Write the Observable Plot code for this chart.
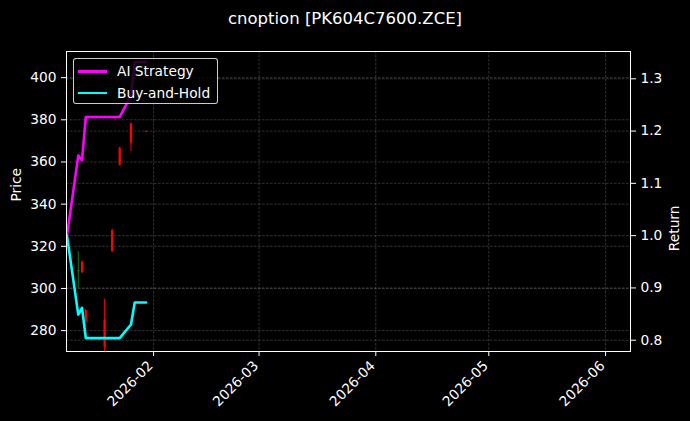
<!DOCTYPE html>
<html>
<head>
<meta charset="utf-8">
<script src="https://cdn.jsdelivr.net/npm/d3@7"></script>
<script src="https://cdn.jsdelivr.net/npm/@observablehq/plot@0.6"></script>
<style>
  html, body { margin: 0; padding: 0; background: #000; }
  #wrap { position: relative; width: 690px; height: 421px; background: #000; font-family: "DejaVu Sans", sans-serif; color: #fff; overflow: hidden; }
  #title { height: 35px; box-sizing: border-box; padding-top: 10px; text-align: center; font-size: 16.5px; line-height: 18px; }
  #legend { position: absolute; left: 73px; top: 58px; width: 145px; height: 46px; box-sizing: border-box;
            background: rgba(0,0,0,0.8); border: 1px solid rgba(255,255,255,0.8); border-radius: 3px; }
  .item { position: absolute; left: 0; height: 20px; width: 100%; font-size: 13.75px; line-height: 20px; }
  .sw { position: absolute; left: 4px; top: 9px; width: 29px; height: 2.6px; }
  .lb { position: absolute; left: 43px; top: 0; white-space: nowrap; }
</style>
</head>
<body>
<div id="wrap">
  <div id="title">cnoption [PK604C7600.ZCE]</div>
  <div id="chart"></div>
  <div id="legend"></div>
</div>
<script>
// ---- data ----
const lineDates = ["2026-01-09","2026-01-12","2026-01-13","2026-01-14","2026-01-15","2026-01-16","2026-01-19","2026-01-20","2026-01-21","2026-01-22","2026-01-23","2026-01-26","2026-01-27","2026-01-28","2026-01-29","2026-01-30"];
const aiStrategy = [1.000, 1.153, 1.144, 1.227, 1.227, 1.227, 1.227, 1.227, 1.227, 1.227, 1.227, 1.268, 1.332, 1.332, 1.332, 1.332];
const buyHold    = [1.000, 0.849, 0.862, 0.804, 0.804, 0.804, 0.804, 0.804, 0.804, 0.804, 0.804, 0.830, 0.872, 0.872, 0.872, 0.872];
const seriesNames = ["AI Strategy", "Buy-and-Hold"];
const seriesColors = ["#ff00ff", "#00ffff"];

const candleDates = ["2026-01-12","2026-01-13","2026-01-14","2026-01-19","2026-01-21","2026-01-23","2026-01-26","2026-01-30"];
const openP  = [308.0, 312.5, 289.5, 285.0, 327.5, 366.5, 378.0, 374.5];
const highP  = [317.5, 313.0, 290.0, 295.0, 328.0, 367.0, 378.5, 374.7];
const lowP   = [300.0, 307.0, 282.0, 265.0, 317.0, 358.0, 365.0, 374.0];
const closeP = [308.5, 307.5, 284.0, 272.0, 317.5, 358.5, 369.0, 374.2];

const priceTicks = [280, 300, 320, 340, 360, 380, 400];
const returnTicks = [0.8, 0.9, 1.0, 1.1, 1.2, 1.3];
const monthTicks = ["2026-02-01","2026-03-01","2026-04-01","2026-05-01","2026-06-01"];

// ---- scales ----
const pMin = 270.1, pMax = 412.4;
const rMin = 0.7784, rMax = 1.3522;
const toP = r => pMin + (r - rMin) * (pMax - pMin) / (rMax - rMin);
const fromP = p => rMin + (p - pMin) * (rMax - rMin) / (pMax - pMin);

const parse = s => new Date(s + "T00:00:00Z");

const lineData = [];
lineDates.forEach((d, i) => {
  lineData.push({date: parse(d), series: seriesNames[0], ret: aiStrategy[i]});
  lineData.push({date: parse(d), series: seriesNames[1], ret: buyHold[i]});
});
const candles = candleDates.map((d, i) => ({
  date: parse(d), open: openP[i], high: highP[i], low: lowP[i], close: closeP[i],
  color: closeP[i] >= openP[i] ? "#008000" : "#ff0000"
}));

const gridStyle = {stroke: "#8a8a8a", strokeOpacity: 0.6, strokeWidth: 0.6, strokeDasharray: "2.6,1.4"};
const FS = 13.75;

const chart = Plot.plot({
  width: 690, height: 386,
  marginLeft: 66, marginRight: 60, marginTop: 16, marginBottom: 70,
  style: {background: "black", color: "white", fontFamily: "DejaVu Sans, sans-serif", fontSize: FS + "px", overflow: "visible"},
  x: {type: "utc", domain: [new Date("2026-01-08T21:00:00Z"), new Date("2026-06-07T15:00:00Z")]},
  y: {domain: [pMin, pMax]},
  color: {type: "identity"},
  marks: [
    Plot.gridX(monthTicks.map(parse), gridStyle),
    Plot.gridY(priceTicks, gridStyle),
    Plot.gridY(returnTicks.map(toP), gridStyle),
    Plot.ruleX(candles, {x: "date", y1: "low", y2: "high", stroke: "color", strokeWidth: 1, clip: true}),
    Plot.ruleX(candles, {x: "date", y1: "open", y2: "close", stroke: "color", strokeWidth: 2.3, clip: true}),
    Plot.line(lineData, {x: "date", y: d => toP(d.ret), z: "series",
      stroke: d => seriesColors[seriesNames.indexOf(d.series)], strokeWidth: 2.6, clip: true}),
    Plot.frame({stroke: "white", strokeWidth: 1}),
    Plot.axisX(monthTicks.map(parse), {tickFormat: d3.utcFormat("%Y-%m"), tickRotate: -45, tickSize: 5, label: null, fontSize: FS, text: null}),
    Plot.axisX(monthTicks.map(parse), {tickFormat: d3.utcFormat("%Y-%m"), tickRotate: -45, tickSize: 0, tickPadding: 12, dx: -3, label: null, fontSize: FS}),
    Plot.axisY(priceTicks, {anchor: "left", tickSize: 5, tickPadding: 5, label: null, fontSize: FS}),
    Plot.axisY(returnTicks.map(toP), {anchor: "right", tickSize: 5, tickPadding: 5, label: null, fontSize: FS,
      tickFormat: p => fromP(p).toFixed(1)}),
    Plot.text(["Price"], {frameAnchor: "left", dx: -50, rotate: -90, fill: "white", fontSize: FS}),
    Plot.text(["Return"], {frameAnchor: "right", dx: 44, dy: 4, rotate: -90, fill: "white", fontSize: FS})
  ]
});
document.getElementById("chart").appendChild(chart);

// legend
const leg = document.getElementById("legend");
seriesNames.forEach((name, i) => {
  const item = document.createElement("div");
  item.className = "item";
  item.style.top = (2 + i * 21.5) + "px";
  const sw = document.createElement("div");
  sw.className = "sw";
  sw.style.background = seriesColors[i];
  const lb = document.createElement("div");
  lb.className = "lb";
  lb.textContent = name;
  item.appendChild(sw); item.appendChild(lb);
  leg.appendChild(item);
});
</script>
</body>
</html>
